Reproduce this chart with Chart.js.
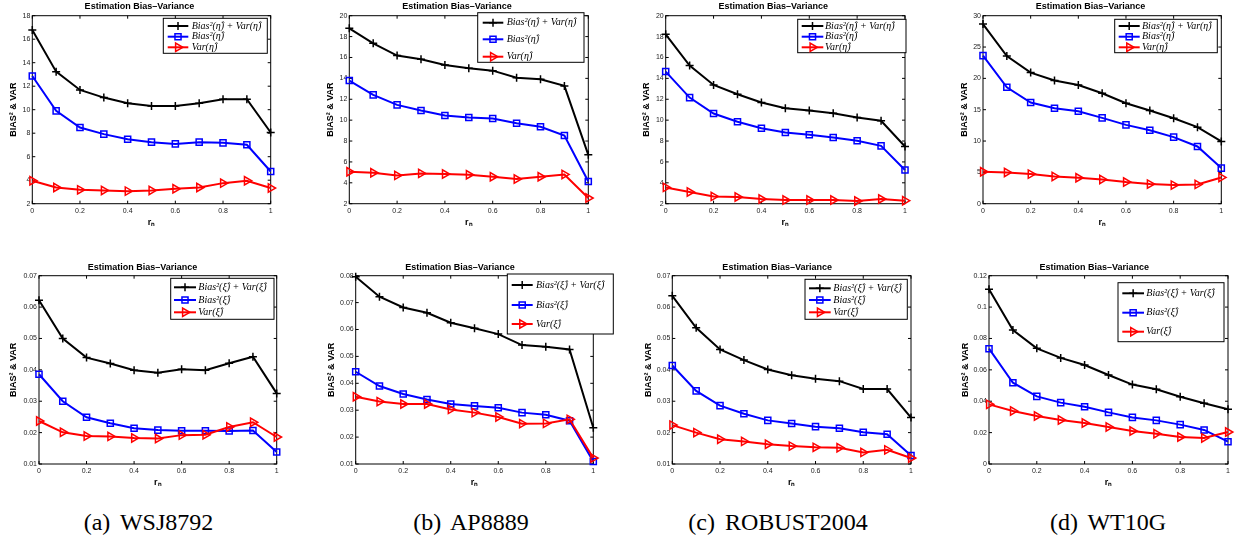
<!DOCTYPE html>
<html>
<head>
<meta charset="utf-8">
<script src="https://cdn.jsdelivr.net/npm/chart.js@4/dist/chart.umd.min.js"></script>
<style>
  html, body { margin: 0; padding: 0; background: #fff; overflow: hidden; }
  body { position: relative; width: 1238px; height: 538px; }
  canvas { position: absolute; }
  .caption {
    position: absolute; top: 510px; width: 300px; text-align: center;
    font-family: "Liberation Serif", "Times New Roman", serif;
    font-size: 24px; line-height: 24px; word-spacing: 4px; color: #000;
  }
</style>
</head>
<body>
<div class="caption" style="left:-1.5px">(a) WSJ8792</div>
<div class="caption" style="left:321px">(b) AP8889</div>
<div class="caption" style="left:628px">(c) ROBUST2004</div>
<div class="caption" style="left:958px">(d) WT10G</div>
<script>
// r_n values on the x axis
const rn = [0, 0.1, 0.2, 0.3, 0.4, 0.5, 0.6, 0.7, 0.8, 0.9, 1];
const xTicks = [0, 0.2, 0.4, 0.6, 0.8, 1];

// top row: eta estimates
const wsjEtaSum  = [16.78, 13.24, 11.68, 11.03, 10.55, 10.32, 10.32, 10.55, 10.89, 10.89, 8.06];
const wsjEtaBias = [12.87, 9.90, 8.48, 7.92, 7.49, 7.24, 7.09, 7.24, 7.18, 7.01, 4.74];
const wsjEtaVar  = [3.95, 3.38, 3.18, 3.13, 3.07, 3.13, 3.27, 3.38, 3.75, 3.95, 3.33];

const apEtaSum  = [18.79, 17.36, 16.18, 15.83, 15.29, 14.97, 14.74, 14.07, 13.92, 13.28, 6.68];
const apEtaBias = [13.79, 12.42, 11.46, 10.92, 10.44, 10.25, 10.16, 9.71, 9.36, 8.53, 4.13];
const apEtaVar  = [5.06, 4.96, 4.71, 4.90, 4.84, 4.77, 4.58, 4.36, 4.58, 4.80, 2.54];

const robustEtaSum  = [18.22, 15.22, 13.37, 12.48, 11.69, 11.14, 10.92, 10.67, 10.25, 9.94, 7.48];
const robustEtaBias = [14.65, 12.16, 10.63, 9.84, 9.23, 8.82, 8.60, 8.34, 8.02, 7.54, 5.22];
const robustEtaVar  = [3.56, 3.12, 2.70, 2.64, 2.45, 2.35, 2.35, 2.35, 2.26, 2.45, 2.29];

const wtEtaSum  = [28.67, 23.57, 20.92, 19.65, 18.95, 17.63, 16.03, 14.87, 13.64, 12.21, 9.93];
const wtEtaBias = [23.63, 18.58, 16.14, 15.24, 14.76, 13.70, 12.58, 11.73, 10.62, 9.13, 5.68];
const wtEtaVar  = [5.09, 4.99, 4.72, 4.35, 4.14, 3.87, 3.45, 3.13, 2.97, 3.08, 4.19];

// bottom row: xi estimates
const wsjXiSum  = [0.0622, 0.0500, 0.0439, 0.0420, 0.0399, 0.0391, 0.0402, 0.0399, 0.0421, 0.0442, 0.0325];
const wsjXiBias = [0.0386, 0.0300, 0.0249, 0.0230, 0.0214, 0.0208, 0.0206, 0.0206, 0.0205, 0.0207, 0.0138];
const wsjXiVar  = [0.0237, 0.0201, 0.0189, 0.0188, 0.0183, 0.0181, 0.0192, 0.0193, 0.0218, 0.0233, 0.0186];

const apXiSum  = [0.0796, 0.0722, 0.0682, 0.0662, 0.0625, 0.0605, 0.0583, 0.0542, 0.0536, 0.0526, 0.0235];
const apXiBias = [0.0443, 0.0390, 0.0360, 0.0340, 0.0323, 0.0316, 0.0309, 0.0291, 0.0283, 0.0261, 0.0109];
const apXiVar  = [0.0350, 0.0332, 0.0323, 0.0323, 0.0303, 0.0291, 0.0275, 0.0250, 0.0251, 0.0266, 0.0122];

const robustXiSum  = [0.0636, 0.0534, 0.0465, 0.0431, 0.0401, 0.0383, 0.0372, 0.0364, 0.0339, 0.0339, 0.0248];
const robustXiBias = [0.0414, 0.0333, 0.0286, 0.0260, 0.0239, 0.0229, 0.0219, 0.0214, 0.0201, 0.0195, 0.0127];
const robustXiVar  = [0.0224, 0.0200, 0.0179, 0.0172, 0.0163, 0.0157, 0.0153, 0.0152, 0.0137, 0.0145, 0.0119];

const wtXiSum  = [0.1113, 0.0854, 0.0737, 0.0676, 0.0631, 0.0567, 0.0506, 0.0476, 0.0429, 0.0387, 0.0349];
const wtXiBias = [0.0735, 0.0518, 0.0431, 0.0391, 0.0365, 0.0329, 0.0297, 0.0278, 0.0251, 0.0217, 0.0142];
const wtXiVar  = [0.0380, 0.0338, 0.0306, 0.0280, 0.0261, 0.0236, 0.0210, 0.0193, 0.0172, 0.0166, 0.0204];

const etaNames = ["Bias\u00b2(\u03b7\u0302) + Var(\u03b7\u0302)", "Bias\u00b2(\u03b7\u0302)", "Var(\u03b7\u0302)"];
const xiNames  = ["Bias\u00b2(\u03be\u0302) + Var(\u03be\u0302)", "Bias\u00b2(\u03be\u0302)", "Var(\u03be\u0302)"];

const chartTitle = "Estimation Bias\u2013Variance";
const yTitle = "BIAS\u00b2 & VAR";
const xTitle = "r\u2099";

const sansFont = '"Liberation Sans", Arial, Helvetica, sans-serif';

// plot boxes in page pixels
const panels = [
  { series: [wsjEtaSum, wsjEtaBias, wsjEtaVar], names: etaNames, yMin: 2, yMax: 18, yStep: 2,
    L: 32.3, R: 270.7, T: 15.7, B: 203.7, titleY: 7, yLabelX: 13.5, xLabelY: 222.3,
    legend: { x: 163.3, y: 18.3, w: 104, h: 35, rows: [26, 36.7, 47.3], x0: 167.7, x1: 188.3, tx: 191.7 } },
  { series: [apEtaSum, apEtaBias, apEtaVar], names: etaNames, yMin: 2, yMax: 20, yStep: 2,
    L: 349.3, R: 588.3, T: 15.7, B: 203.7, titleY: 7, yLabelX: 331, xLabelY: 222.3,
    legend: { x: 477.7, y: 12.7, w: 106.3, h: 49.6, rows: [22.7, 39.3, 56.7], x0: 482.7, x1: 503.3, tx: 506.7 } },
  { series: [robustEtaSum, robustEtaBias, robustEtaVar], names: etaNames, yMin: 2, yMax: 20, yStep: 2,
    L: 665.7, R: 905, T: 15.7, B: 203.7, titleY: 7, yLabelX: 647, xLabelY: 222.3,
    legend: { x: 797.7, y: 19.3, w: 108.3, h: 33.4, rows: [26, 36.7, 47.3], x0: 801.7, x1: 823.3, tx: 825 } },
  { series: [wtEtaSum, wtEtaBias, wtEtaVar], names: etaNames, yMin: 0, yMax: 30, yStep: 5,
    L: 983, R: 1221.3, T: 15.7, B: 203.7, titleY: 7, yLabelX: 965, xLabelY: 222.3,
    legend: { x: 1114.7, y: 19.3, w: 102.6, h: 33.4, rows: [26, 36.7, 47.3], x0: 1118.7, x1: 1139.7, tx: 1142 } },
  { series: [wsjXiSum, wsjXiBias, wsjXiVar], names: xiNames, yMin: 0.01, yMax: 0.07, yStep: 0.01,
    L: 39, R: 276.7, T: 275.7, B: 464, titleY: 267.5, yLabelX: 13.7, xLabelY: 483,
    legend: { x: 170.7, y: 278.3, w: 103.3, h: 41, rows: [287.3, 300, 312.3], x0: 174, x1: 196, tx: 198.3 } },
  { series: [apXiSum, apXiBias, apXiVar], names: xiNames, yMin: 0.01, yMax: 0.08, yStep: 0.01,
    L: 355.7, R: 593.3, T: 275.7, B: 464, titleY: 267.5, yLabelX: 332, xLabelY: 483,
    legend: { x: 507.3, y: 274, w: 106, h: 60, rows: [285, 305, 324], x0: 511.7, x1: 532.7, tx: 536 } },
  { series: [robustXiSum, robustXiBias, robustXiVar], names: xiNames, yMin: 0.01, yMax: 0.07, yStep: 0.01,
    L: 672.3, R: 911, T: 275.7, B: 464, titleY: 267.5, yLabelX: 648.7, xLabelY: 483,
    legend: { x: 805, y: 279.3, w: 102.3, h: 40, rows: [288.3, 300, 312.3], x0: 809, x1: 830.7, tx: 833.3 } },
  { series: [wtXiSum, wtXiBias, wtXiVar], names: xiNames, yMin: 0, yMax: 0.12, yStep: 0.02,
    L: 989, R: 1228, T: 275.7, B: 464, titleY: 267.5, yLabelX: 966, xLabelY: 483,
    legend: { x: 1118, y: 282.7, w: 106, h: 59, rows: [293.3, 312.7, 331.7], x0: 1122.3, x1: 1144, tx: 1146.3 } },
];

const styles = [
  { color: "#000000", pointStyle: "cross", radius: 4, rotation: 0, order: 3 },
  { color: "#0000ff", pointStyle: "rect", radius: 4.3, rotation: 0, order: 2 },
  { color: "#ff0000", pointStyle: "triangle", radius: 4.8, rotation: 90, order: 1 },
];

const fmt = (v) => String(+Number(v).toFixed(4));

function drawMarker(ctx, st, x, y) {
  ctx.save();
  ctx.strokeStyle = st.color;
  ctx.lineWidth = 1.5;
  ctx.beginPath();
  const r = st.radius;
  if (st.pointStyle === "cross") {
    ctx.moveTo(x - r, y); ctx.lineTo(x + r, y);
    ctx.moveTo(x, y - r); ctx.lineTo(x, y + r);
  } else if (st.pointStyle === "rect") {
    const s = r * Math.SQRT1_2;
    ctx.rect(x - s, y - s, 2 * s, 2 * s);
  } else {
    let a = st.rotation * Math.PI / 180;
    ctx.moveTo(x + Math.sin(a) * r, y - Math.cos(a) * r);
    for (let k = 0; k < 2; k++) {
      a += 2 * Math.PI / 3;
      ctx.lineTo(x + Math.sin(a) * r, y - Math.cos(a) * r);
    }
    ctx.closePath();
  }
  ctx.stroke();
  ctx.restore();
}

const framePlugin = {
  id: "frame",
  beforeDatasetsDraw(chart) {
    const { ctx, chartArea: a, scales: { x, y } } = chart;
    ctx.save();
    ctx.strokeStyle = "#000";
    ctx.lineWidth = 1;
    ctx.strokeRect(a.left, a.top, a.right - a.left, a.bottom - a.top);
    ctx.beginPath();
    y.ticks.forEach((t) => {
      const py = y.getPixelForValue(t.value);
      ctx.moveTo(a.left, py); ctx.lineTo(a.left + 3, py);
      ctx.moveTo(a.right, py); ctx.lineTo(a.right - 3, py);
    });
    x.ticks.forEach((t) => {
      const px = x.getPixelForValue(t.value);
      ctx.moveTo(px, a.bottom); ctx.lineTo(px, a.bottom - 3);
      ctx.moveTo(px, a.top); ctx.lineTo(px, a.top + 3);
    });
    ctx.stroke();
    ctx.restore();
  },
};

function legendPlugin(p, cx, cy) {
  return {
    id: "boxLegend",
    afterDraw(chart) {
      const ctx = chart.ctx;
      const g = p.legend;
      ctx.save();
      ctx.translate(-cx, -cy);
      ctx.fillStyle = "#fff";
      ctx.fillRect(g.x, g.y, g.w, g.h);
      ctx.strokeStyle = "#000";
      ctx.lineWidth = 1;
      ctx.strokeRect(g.x, g.y, g.w, g.h);
      styles.forEach((st, i) => {
        const ry = g.rows[i];
        ctx.strokeStyle = st.color;
        ctx.lineWidth = 2;
        ctx.beginPath();
        ctx.moveTo(g.x0, ry);
        ctx.lineTo(g.x1, ry);
        ctx.stroke();
        drawMarker(ctx, st, (g.x0 + g.x1) / 2, ry);
        ctx.fillStyle = "#000";
        ctx.font = 'italic 10px "Liberation Serif", "Times New Roman", serif';
        ctx.textBaseline = "middle";
        ctx.textAlign = "left";
        ctx.fillText(p.names[i], g.tx, ry);
      });
      ctx.restore();
    },
  };
}

function makePanel(p) {
  const half = 9 * 1.2 / 2;
  const yAxisW = p.L - p.yLabelX + half;
  const xAxisH = p.xLabelY - p.B + half;
  const cx = Math.floor(p.L - yAxisW);
  const cy = Math.floor(p.titleY - half - 1);
  const cw = Math.ceil(p.R - cx + 26);
  const ch = Math.ceil(p.B + xAxisH - cy + 2);

  const canvas = document.createElement("canvas");
  canvas.width = cw;
  canvas.height = ch;
  canvas.style.left = cx + "px";
  canvas.style.top = cy + "px";
  document.body.appendChild(canvas);

  const datasets = p.series.map((vals, i) => ({
    label: p.names[i],
    data: rn.map((x, k) => ({ x, y: vals[k] })),
    borderColor: styles[i].color,
    borderWidth: 2,
    pointStyle: styles[i].pointStyle,
    pointRadius: styles[i].radius,
    pointRotation: styles[i].rotation,
    pointBorderColor: styles[i].color,
    pointBackgroundColor: "rgba(0,0,0,0)",
    pointBorderWidth: 1.5,
    tension: 0,
    clip: false,
    order: styles[i].order,
  }));

  new Chart(canvas, {
    type: "line",
    data: { datasets },
    options: {
      responsive: false,
      animation: false,
      devicePixelRatio: 1,
      events: [],
      layout: {
        padding: {
          left: p.L - yAxisW - cx,
          top: 0,
          right: cw - (p.R - cx),
          bottom: ch - (p.B + xAxisH - cy),
        },
      },
      plugins: {
        legend: { display: false },
        tooltip: { enabled: false },
        title: {
          display: true,
          text: chartTitle,
          color: "#000",
          font: { family: sansFont, size: 9, weight: "bold" },
          padding: { top: p.titleY - half - cy, bottom: p.T - p.titleY - half },
        },
      },
      scales: {
        x: {
          type: "linear",
          min: 0,
          max: 1,
          afterFit: (s) => { s.height = xAxisH; },
          afterBuildTicks: (s) => { s.ticks = xTicks.map((v) => ({ value: v })); },
          grid: { display: false, drawTicks: false },
          border: { display: false },
          ticks: { padding: 3, color: "#222", font: { family: sansFont, size: 7 },
                   callback: fmt, autoSkip: false, maxRotation: 0 },
          title: { display: true, text: xTitle, color: "#000", padding: 0,
                   font: { family: sansFont, size: 9, weight: "bold" } },
        },
        y: {
          type: "linear",
          min: p.yMin,
          max: p.yMax,
          afterFit: (s) => { s.width = yAxisW; },
          grid: { display: false, drawTicks: false },
          border: { display: false },
          ticks: { stepSize: p.yStep, padding: 2, color: "#222", font: { family: sansFont, size: 7 },
                   callback: fmt, autoSkip: false },
          title: { display: true, text: yTitle, color: "#000", padding: 0,
                   font: { family: sansFont, size: 9, weight: "bold" } },
        },
      },
    },
    plugins: [framePlugin, legendPlugin(p, cx, cy)],
  });
}

panels.forEach(makePanel);
</script>
</body>
</html>
